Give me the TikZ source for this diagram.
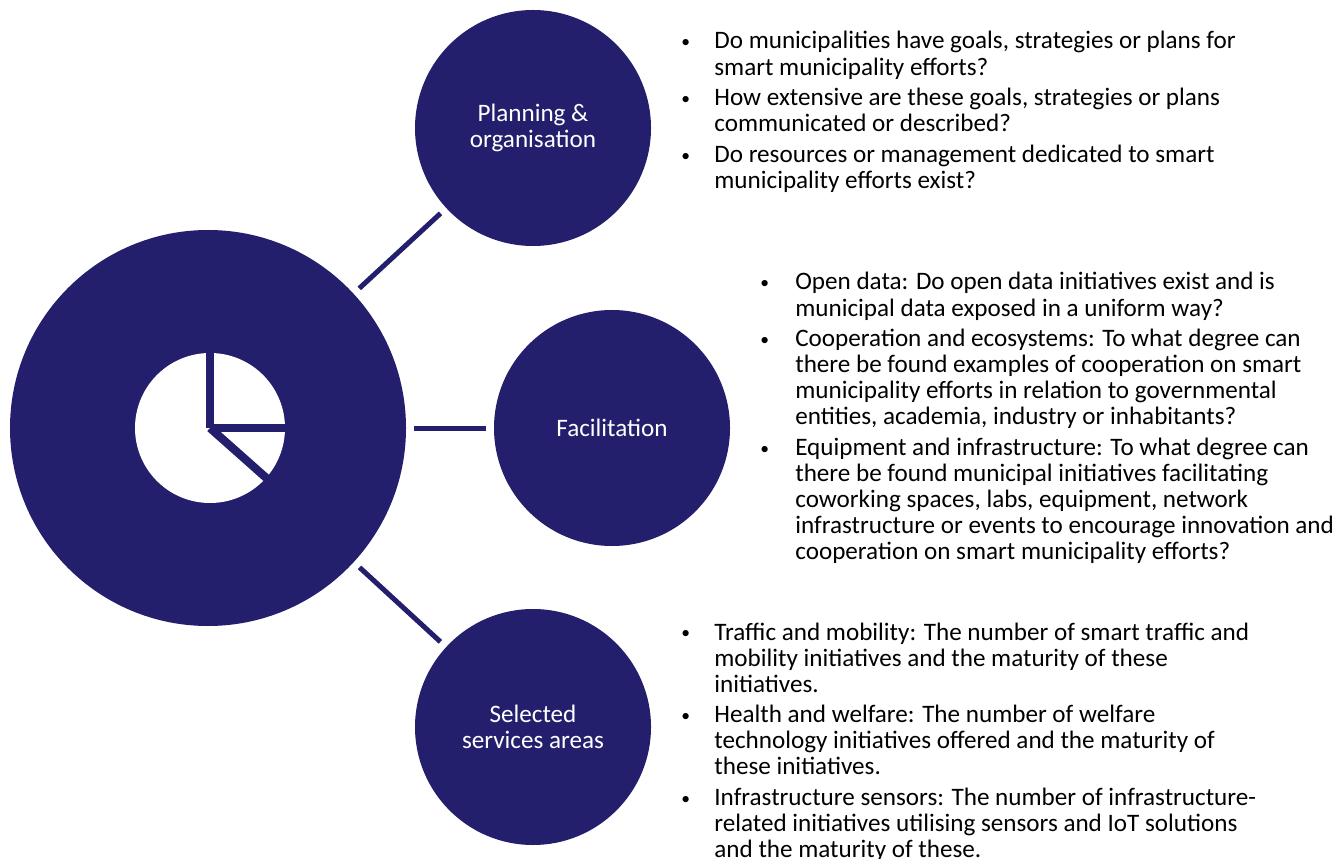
\documentclass[tikz,border=0pt]{standalone}
\usepackage{fontspec}
\setmainfont{Carlito}
\definecolor{navy}{RGB}{35,31,108}
\tikzset{hub/.style   = {circle, fill=navy, minimum size=79.2mm, inner sep=0pt},
	spoke/.style  = {circle, fill=navy, minimum size=47.2mm, inner sep=0pt, text=white,
		align=center, font=\fontsize{14.3}{14.8}\selectfont},
	link/.style   = {draw=navy, line width=1mm, shorten <=1.5mm, shorten >=1.5mm},
	cut/.style    = {draw=navy, line width=1.65mm},
	bullets/.style = {anchor=base west, inner sep=0pt, font=\fontsize{14.3}{14.8}\selectfont}
}
\newcommand{\itemgap}{\\[2.8pt]}
\newcommand{\bdot}{\raisebox{0.6pt}{\fontsize{10}{10}\selectfont\textbullet}}

\begin{document}
\begin{tikzpicture}[x=0.2mm, y=-0.2mm]
		\useasboundingbox (0,0) rectangle (1340,859);
		\node [hub] (hub) at (208,428) {};
		\node [spoke] (plan) at (533,128) {Planning \&\\organisation};
		\node [spoke] (facil) at (612,428) {Facilitation};
		\node [spoke] (areas) at (533,727) {Selected\\services areas};
		\draw[link] (hub) -- (plan);
		\draw[link] (hub) -- (facil);
		\draw[link] (hub) -- (areas);
		\coordinate (pie) at (210,428);
		\fill[white] (pie) circle (75);
		\draw[cut] (pie) -- ++(0,-85);
		\draw[cut] (pie) -- ++(85,0);
		\draw[cut] (pie) -- ++(62,55);
		\node [bullets] (plan list) at (681,49) {\begin{tabular}[t]{@{}p{18.8pt}@{}l@{}}
			\bdot & Do municipalities have goals, strategies or plans for\\
			& smart municipality efforts?\itemgap
			\bdot & How extensive are these goals, strategies or plans\\
			& communicated or described?\itemgap
			\bdot & Do resources or management dedicated to smart\\
			& municipality efforts exist?
		\end{tabular}};
		\node [bullets] (facil list) at (760,290) {\begin{tabular}[t]{@{}p{19.9pt}@{}l@{}}
			\bdot & Open data: Do open data initiatives exist and is\\
			& municipal data exposed in a uniform way?\itemgap
			\bdot & Cooperation and ecosystems: To what degree can\\
			& there be found examples of cooperation on smart\\
			& municipality efforts in relation to governmental\\
			& entities, academia, industry or inhabitants?\itemgap
			\bdot & Equipment and infrastructure: To what degree can\\
			& there be found municipal initiatives facilitating\\
			& coworking spaces, labs, equipment, network\\
			& infrastructure or events to encourage innovation and\\
			& cooperation on smart municipality efforts?
		\end{tabular}};
		\node [bullets] (areas list) at (681,640) {\begin{tabular}[t]{@{}p{18.8pt}@{}l@{}}
			\bdot & Traffic and mobility: The number of smart traffic and\\
			& mobility initiatives and the maturity of these\\
			& initiatives.\itemgap
			\bdot & Health and welfare: The number of welfare\\
			& technology initiatives offered and the maturity of\\
			& these initiatives.\itemgap
			\bdot & Infrastructure sensors: The number of infrastructure-\\
			& related initiatives utilising sensors and IoT solutions\\
			& and the maturity of these.
		\end{tabular}};
	\end{tikzpicture}
\end{document}
